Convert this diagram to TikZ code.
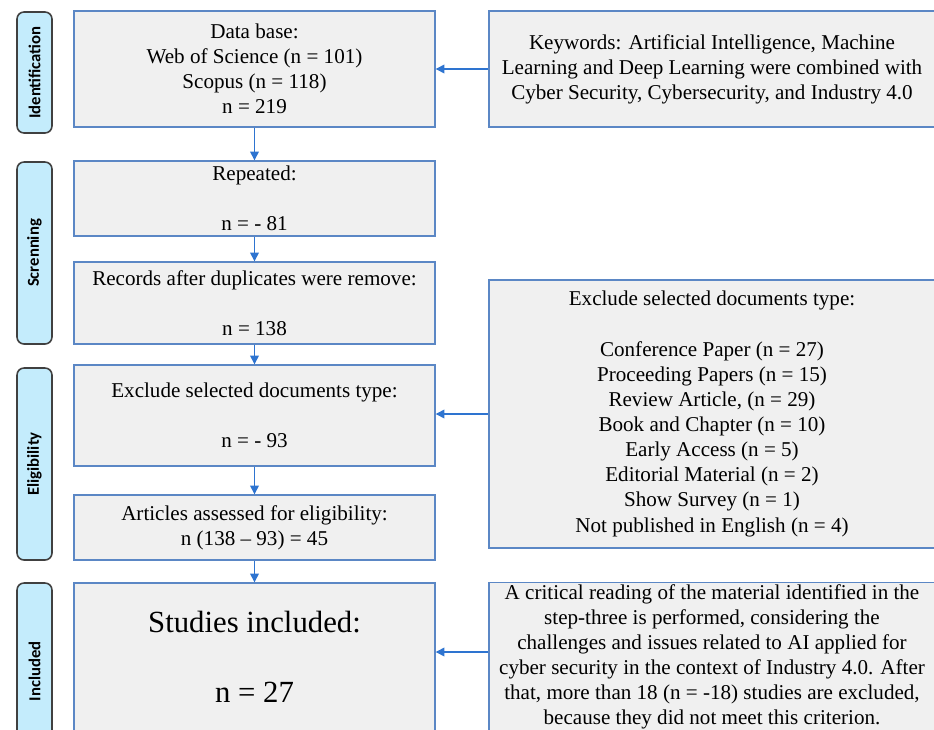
\documentclass[tikz,border=0pt]{standalone}
\usepackage{fontspec}
\setmainfont{Liberation Serif}
\newfontfamily\phasefont{Carlito}
\usetikzlibrary{arrows.meta}

\definecolor{boxfill}{HTML}{F0F0F0}
\definecolor{boxline}{HTML}{5B87C5}
\definecolor{arrowblue}{HTML}{2E74D0}
\definecolor{phasefill}{HTML}{C4ECFC}
\definecolor{phaseline}{HTML}{404040}

\begin{document}
\begin{tikzpicture}[
    flowbox/.style={draw=boxline, fill=boxfill, line width=0.8pt, align=center,
        inner sep=1pt, minimum width=7.22cm, font=\fontsize{12}{14.3}\selectfont},
    sidebox/.style={flowbox, minimum width=8.92cm},
    phase/.style={draw=phaseline, fill=phasefill, line width=0.9pt, rounded corners=4pt,
        rotate=90, minimum height=0.7cm, inner sep=0pt,
        font=\phasefont\bfseries\fontsize{9.5}{11}\selectfont},
    flow/.style={arrowblue, line width=0.8pt, -{Triangle[length=5pt,width=5pt]}}
]
    % Frame
    \clip (0,0) rectangle (18.68,-14.58);

    % Phases (left bars)
    \node[phase, minimum width=2.42cm] (pid)  at (0.69,-1.45)  {Identification};
    \node[phase, minimum width=3.64cm] (pscr) at (0.69,-5.06)  {Screnning};
    \node[phase, minimum width=3.84cm] (pel)  at (0.69,-9.28)  {Eligibility};
    \node[phase, minimum width=3.54cm] (pinc) at (0.69,-13.43) {Included};

    % Main column
    \node[flowbox, minimum height=2.32cm] (base) at (5.09,-1.38)
        {Data base:\\ Web of Science (n = 101)\\ Scopus (n = 118)\\ n = 219};
    \node[flowbox, minimum height=1.5cm] (rep) at (5.09,-3.97)
        {Repeated:\\[14.3pt] n = - 81};
    \node[flowbox, minimum height=1.64cm] (rec) at (5.09,-6.06)
        {Records after duplicates were remove:\\[14.3pt] n = 138};
    \node[flowbox, minimum height=2.02cm] (excl) at (5.09,-8.31)
        {Exclude selected documents type:\\[14.3pt] n = - 93};
    \node[flowbox, minimum height=1.3cm] (art) at (5.09,-10.55)
        {Articles assessed for eligibility:\\ n (138 -- 93) = 45};
    \node[flowbox, minimum height=2.96cm, font=\fontsize{17.5}{20}\selectfont] (inc) at (5.09,-13.14)
        {Studies included:\\[20pt] n = 27};

    % Side column
    \node[sidebox, minimum height=2.32cm] (keys) at (14.24,-1.38)
        {Keywords: Artificial Intelligence, Machine\\
         Learning and Deep Learning were combined with\\
         Cyber Security, Cybersecurity, and Industry 4.0};
    \node[sidebox, minimum height=5.36cm] (types) at (14.24,-8.28)
        {Exclude selected documents type:\\[14.3pt]
         Conference Paper (n = 27)\\ Proceeding Papers (n = 15)\\
         Review Article, (n = 29)\\ Book and Chapter (n = 10)\\
         Early Access (n = 5)\\ Editorial Material (n = 2)\\
         Show Survey (n = 1)\\ Not published in English (n = 4)};
    \node[sidebox, minimum height=2.96cm] (crit) at (14.24,-13.14)
        {A critical reading of the material identified in the\\
         step-three is performed, considering the\\
         challenges and issues related to AI applied for\\
         cyber security in the context of Industry 4.0. After\\
         that, more than 18 (n = -18) studies are excluded,\\
         because they did not meet this criterion.};

    % Arrows down
    \draw[flow] (base) -- (rep);
    \draw[flow] (rep) -- (rec);
    \draw[flow] (rec) -- (excl);
    \draw[flow] (excl) -- (art);
    \draw[flow] (art) -- (inc);

    % Arrows in from the side
    \draw[flow] (keys.west) -- (base.east);
    \draw[flow] (types.west) -- (types.west -| excl.east);
    \draw[flow] ([yshift=0.1cm]crit.west) -- ([yshift=0.1cm]crit.west -| inc.east);
\end{tikzpicture}
\end{document}
